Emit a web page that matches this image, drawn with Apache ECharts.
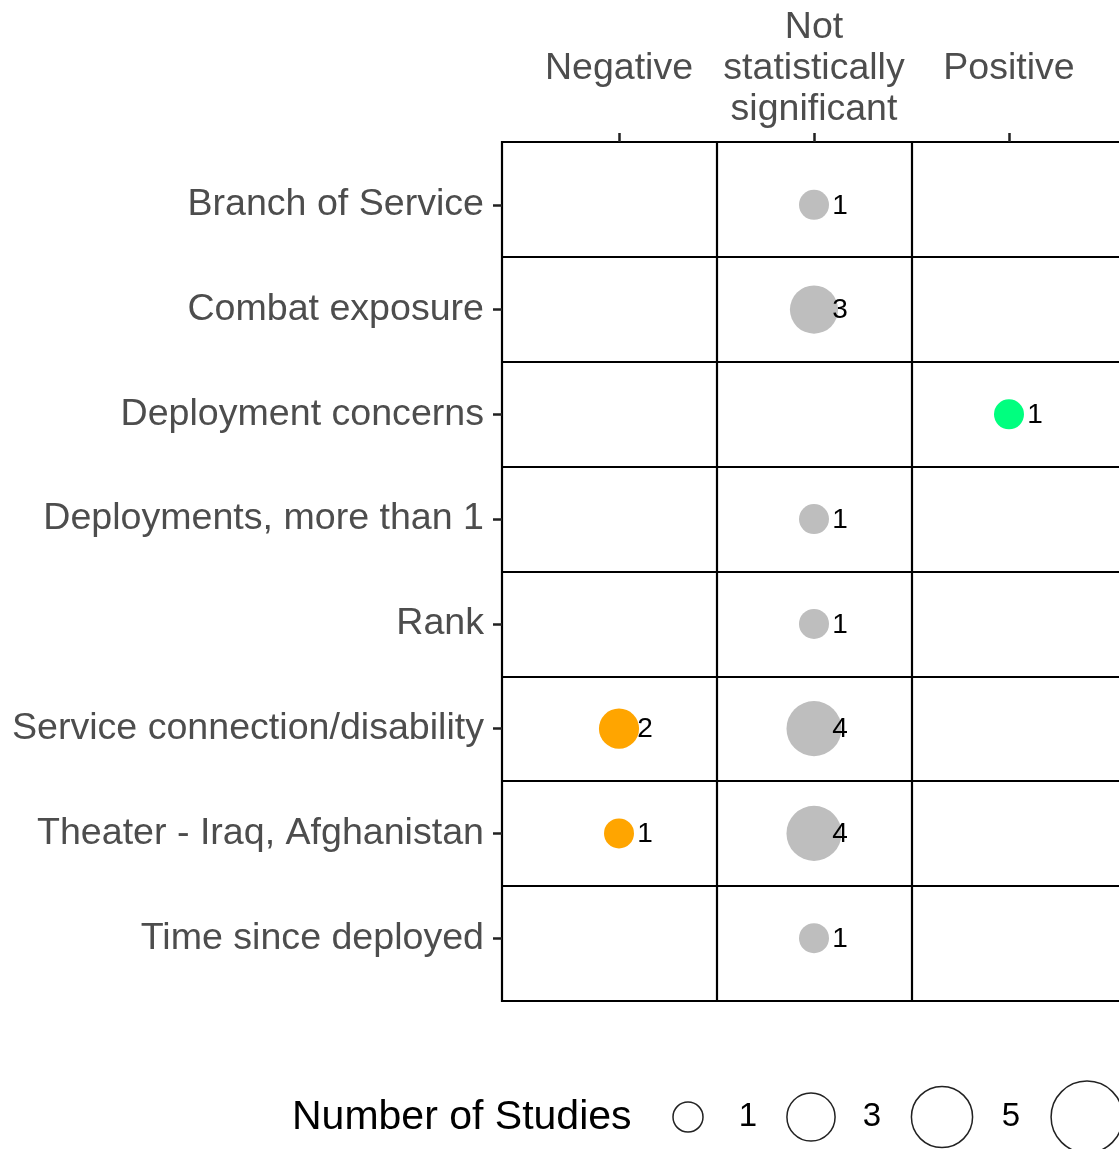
<!DOCTYPE html>
<html>
<head>
<meta charset="utf-8">
<script src="https://cdn.jsdelivr.net/npm/echarts@6/dist/echarts.min.js"></script>
<style>
html,body{margin:0;padding:0;background:#fff;overflow:hidden;}
#chart{width:1130px;height:1149px;}
</style>
</head>
<body>
<div id="chart"></div>
<script>
// ---- data ----
const categories = [
  'Branch of Service',
  'Combat exposure',
  'Deployment concerns',
  'Deployments, more than 1',
  'Rank',
  'Service connection/disability',
  'Theater - Iraq, Afghanistan',
  'Time since deployed'
];
const effectLabels = ['Negative', 'Not\nstatistically\nsignificant', 'Positive'];
const negativeCounts = [0, 0, 0, 0, 0, 2, 1, 0];
const notSigCounts   = [1, 3, 0, 1, 1, 4, 4, 1];
const positiveCounts = [0, 0, 1, 0, 0, 0, 0, 0];
const legendSizes = [1, 3, 5, 7];
const seriesColors = ['#FFA500', '#BEBEBE', '#00FF7F'];

// size scale (area-like)
function diam(n) { return Math.sqrt(190 + 710 * n); }

const FONT = '"Liberation Sans", Arial, Helvetica, sans-serif';

function toPoints(counts, col) {
  const out = [];
  counts.forEach((c, i) => { if (c > 0) out.push([col, i, c]); });
  return out;
}

const columns = [negativeCounts, notSigCounts, positiveCounts];
const idxX = effectLabels.map((_, i) => i);
const idxY = categories.map((_, i) => i);

const series = columns.map((counts, col) => ({
  type: 'scatter',
  data: toPoints(counts, col),
  symbol: 'circle',
  symbolSize: v => diam(v[2]),
  itemStyle: { color: seriesColors[col], opacity: 1 },
  label: {
    show: true,
    position: 'inside',
    offset: [26, 1],
    formatter: p => String(p.value[2]),
    color: '#000',
    fontSize: 28,
    fontFamily: FONT
  },
  emphasis: { disabled: true },
  z: 3
}));

// panel separator lines between categories
const sepLines = [];
for (let i = 0; i < effectLabels.length - 1; i++) sepLines.push({ xAxis: i + 0.5 });
for (let i = 0; i < categories.length - 1; i++) sepLines.push({ yAxis: i + 0.5 });
series.push({
  type: 'scatter',
  data: [],
  silent: true,
  markLine: {
    silent: true,
    symbol: 'none',
    label: { show: false },
    lineStyle: { color: '#000', width: 2.2, type: 'solid' },
    data: sepLines,
    animation: false
  },
  z: 1
});

// legend graphics
const legendCx = [688, 811, 942, 1087];
const legendLx = [748, 872, 1011, 1150];
const legendY = 1117;
const graphics = [{
  type: 'text',
  x: 292, y: legendY + 1,
  style: { text: 'Number of Studies', fill: '#000', fontSize: 41, fontFamily: FONT,
           align: 'left', verticalAlign: 'middle', textAlign: 'left', textVerticalAlign: 'middle' }
}];
legendSizes.forEach((n, i) => {
  graphics.push({
    type: 'circle',
    shape: { cx: legendCx[i], cy: legendY, r: diam(n) / 2 },
    style: { fill: '#fff', stroke: '#222', lineWidth: 1.5 }
  });
  graphics.push({
    type: 'text',
    x: legendLx[i], y: legendY,
    style: { text: String(n), fill: '#000', fontSize: 33, fontFamily: FONT,
             align: 'center', verticalAlign: 'middle', textAlign: 'center', textVerticalAlign: 'middle' }
  });
});

const option = {
  animation: false,
  backgroundColor: '#fff',
  grid: {
    left: 502, top: 142, width: 624, height: 859,
    show: true, borderColor: '#000', borderWidth: 2.2, backgroundColor: 'transparent'
  },
  xAxis: {
    type: 'value', position: 'top', min: -0.6, max: 2.6,
    axisLine: { show: false, onZero: false },
    splitLine: { show: false },
    axisTick: { show: true, customValues: idxX, length: 9, lineStyle: { color: '#222', width: 2.5 } },
    axisLabel: {
      customValues: idxX,
      formatter: v => effectLabels[Math.round(v)] || '',
      color: '#4D4D4D', fontSize: 37.5, fontFamily: FONT,
      lineHeight: 41, verticalAlign: 'middle', margin: 73, align: 'center'
    }
  },
  yAxis: {
    type: 'value', inverse: true, min: -0.6, max: 7.6,
    axisLine: { show: false, onZero: false },
    splitLine: { show: false },
    axisTick: { show: true, customValues: idxY, length: 9, lineStyle: { color: '#222', width: 2.5 } },
    axisLabel: {
      customValues: idxY,
      formatter: v => categories[Math.round(v)] || '',
      color: '#4D4D4D', fontSize: 37.6, fontFamily: FONT, margin: 18,
      padding: [6, 0, 0, 0]
    }
  },
  series: series,
  graphic: graphics
};

const chart = echarts.init(document.getElementById('chart'), null, { renderer: 'canvas' });
chart.setOption(option);
</script>
</body>
</html>
